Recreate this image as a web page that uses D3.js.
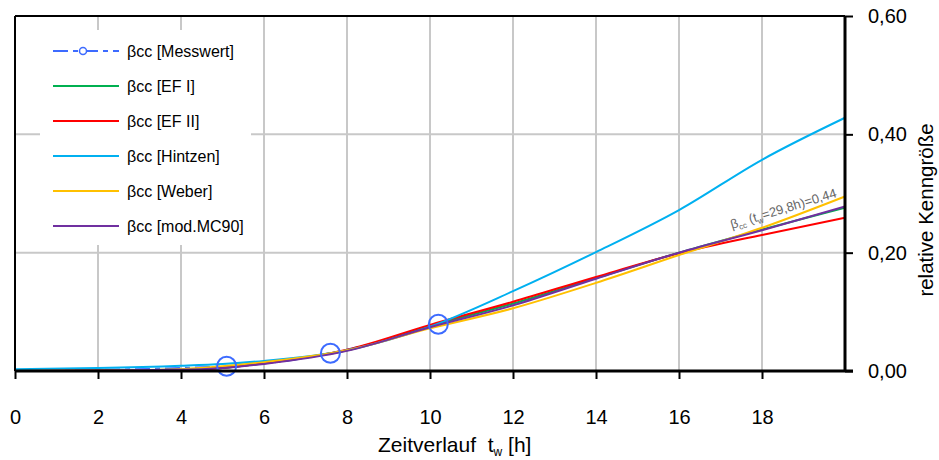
<!DOCTYPE html>
<html>
<head>
<meta charset="utf-8">
<script src="https://cdn.jsdelivr.net/npm/d3@7"></script>
<style>
  body { margin: 0; background: #fff; }
  svg { font-family: Arial, "Liberation Sans", sans-serif; }
</style>
</head>
<body>
<div id="chart"></div>
<script>
// x positions (hours) shared by all calculated curves
const hours = [0, 2, 4, 5, 6, 8, 10, 12, 14, 16, 18, 20];

const efI     = [0, 0.001, 0.002, 0.005, 0.013, 0.035, 0.076, 0.114, 0.157, 0.200, 0.239, 0.276];
const efII    = [0, 0.001, 0.002, 0.005, 0.013, 0.036, 0.078, 0.117, 0.159, 0.199, 0.230, 0.259];
const hintzen = [0.003, 0.005, 0.009, 0.012, 0.017, 0.035, 0.075, 0.135, 0.201, 0.272, 0.357, 0.428];
const weber   = [0, 0.001, 0.003, 0.008, 0.015, 0.035, 0.072, 0.106, 0.149, 0.196, 0.242, 0.295];
const mc90    = [0, 0.001, 0.002, 0.005, 0.012, 0.034, 0.074, 0.111, 0.156, 0.200, 0.238, 0.278];

// measured values
const messX = [0, 5.1, 7.6, 10.2];
const messY = [0, 0.008, 0.030, 0.079];

const xTicks = [0, 2, 4, 6, 8, 10, 12, 14, 16, 18];
const yTicks = [0, 0.2, 0.4, 0.6];

const series = [
  { name: 'βcc [EF I]', color: '#00b050', values: efI },
  { name: 'βcc [EF II]', color: '#ff0000', values: efII },
  { name: 'βcc [Hintzen]', color: '#00b0f0', values: hintzen },
  { name: 'βcc [Weber]', color: '#ffc000', values: weber },
  { name: 'βcc [mod.MC90]', color: '#7030a0', values: mc90 },
];

const width = 939, height = 460;
const area = { left: 15, right: 845, top: 16, bottom: 371 };
const messColor = '#3d6bff';
const messDash = '15,5,5,5';

const svg = d3.select('#chart').append('svg')
  .attr('width', width).attr('height', height);

const xScale = d3.scaleLinear().domain([0, 20]).range([area.left, area.right]);
const yScale = d3.scaleLinear().domain([0, 0.6]).range([area.bottom, area.top]);

// gridlines
const grid = svg.append('g').attr('class', 'gridlines');
grid.selectAll('line.v')
  .data(xTicks.filter((d) => d > 0))
  .join('line')
  .attr('x1', (d) => xScale(d)).attr('x2', (d) => xScale(d))
  .attr('y1', area.top).attr('y2', area.bottom)
  .attr('stroke', '#c8c8c8').attr('stroke-width', 2);
grid.selectAll('line.h')
  .data([0.2, 0.4])
  .join('line')
  .attr('x1', area.left).attr('x2', area.right)
  .attr('y1', (d) => yScale(d)).attr('y2', (d) => yScale(d))
  .attr('stroke', '#c8c8c8').attr('stroke-width', 2);

// legend background hides the grid
svg.append('rect')
  .attr('x', 40).attr('y', 30).attr('width', 211).attr('height', 215)
  .attr('fill', '#fff');

// curves
const line = d3.line()
  .x((d) => xScale(d[0]))
  .y((d) => yScale(d[1]))
  .curve(d3.curveMonotoneX);

const messPoints = messX.map((x, i) => [x, messY[i]]);
const curves = svg.append('g').attr('class', 'curves');
// measured dashed line
curves.append('path')
  .attr('d', line(messPoints))
  .attr('fill', 'none')
  .attr('stroke', messColor).attr('stroke-width', 2)
  .attr('stroke-dasharray', messDash);

series.forEach((s) => {
  curves.append('path')
    .attr('d', line(hours.map((h, i) => [h, s.values[i]])))
    .attr('fill', 'none')
    .attr('stroke', s.color)
    .attr('stroke-width', 2);
});

curves.selectAll('circle')
  .data(messPoints.filter((d) => d[0] > 0))
  .join('circle')
  .attr('cx', (d) => xScale(d[0]))
  .attr('cy', (d) => yScale(d[1]))
  .attr('r', 9.5)
  .attr('fill', 'none')
  .attr('stroke', messColor)
  .attr('stroke-width', 2);

// annotation
const note = svg.append('g')
  .attr('transform', 'translate(732,229) rotate(-17)');
const noteText = note.append('text')
  .attr('fill', '#666').attr('font-size', 13);
noteText.append('tspan').text('β');
noteText.append('tspan').attr('font-size', 8).attr('dy', 3).text('cc');
noteText.append('tspan').attr('dy', -3).text('  (t');
noteText.append('tspan').attr('font-size', 8).attr('dy', 3).text('w');
noteText.append('tspan').attr('dy', -3).text('=29,8h)=0,44');

// frame
svg.append('line')
  .attr('x1', area.left).attr('x2', area.left)
  .attr('y1', area.top).attr('y2', area.bottom)
  .attr('stroke', '#000').attr('stroke-width', 2);
svg.append('line')
  .attr('x1', area.left).attr('x2', area.right)
  .attr('y1', area.top).attr('y2', area.top)
  .attr('stroke', '#000').attr('stroke-width', 2);

// x axis
const xAxis = d3.axisBottom(xScale)
  .tickValues(xTicks)
  .tickSize(8)
  .tickPadding(31)
  .tickFormat(d3.format('d'));
const gx = svg.append('g')
  .attr('transform', `translate(0, ${area.bottom})`)
  .call(xAxis);
gx.select('.domain').attr('stroke-width', 3).attr('d', `M${area.left},0H${area.right + 8}`);
gx.selectAll('.tick line').attr('stroke-width', 2);
gx.selectAll('.tick text').attr('font-size', 20).attr('fill', '#000');

// y axis on the right
const yAxis = d3.axisRight(yScale)
  .tickValues(yTicks)
  .tickSize(8)
  .tickPadding(15)
  .tickFormat((d) => d.toFixed(2).replace('.', ','));
const gy = svg.append('g')
  .attr('transform', `translate(${area.right}, 0)`)
  .call(yAxis);
gy.select('.domain').attr('stroke-width', 3).attr('d', `M0,${area.top}V${area.bottom}`);
gy.selectAll('.tick line').attr('stroke-width', 2);
gy.selectAll('.tick text').attr('font-size', 20).attr('fill', '#000');

// axis titles
const xt = svg.append('text')
  .attr('x', 378).attr('y', 452)
  .attr('font-size', 21).attr('fill', '#000')
  .attr('xml:space', 'preserve');
xt.append('tspan').text('Zeitverlauf  t');
xt.append('tspan').attr('font-size', 12).attr('dy', 4).text('w');
xt.append('tspan').attr('dy', -4).text(' [h]');

svg.append('text')
  .attr('transform', 'translate(933, 210) rotate(-90)')
  .attr('text-anchor', 'middle')
  .attr('font-size', 20.5)
  .text('relative Kenngröße');

// legend
const legendItems = [{ name: 'βcc [Messwert]', color: messColor, mess: true }].concat(series);
const legend = svg.append('g').attr('class', 'legend');
legendItems.forEach((d, i) => {
  const y = 51 + i * 35;
  const g = legend.append('g').attr('transform', `translate(0, ${y})`);
  g.append('line')
    .attr('x1', 53).attr('x2', 119)
    .attr('stroke', d.color).attr('stroke-width', 2)
    .attr('stroke-dasharray', d.mess ? messDash : null);
  if (d.mess) {
    g.append('circle').attr('cx', 83).attr('cy', 0).attr('r', 3.5)
      .attr('fill', '#fff').attr('stroke', d.color).attr('stroke-width', 1.5);
  }
  g.append('text')
    .attr('x', 127).attr('y', 6)
    .attr('font-size', 16)
    .text(d.name);
});
</script>
</body>
</html>
